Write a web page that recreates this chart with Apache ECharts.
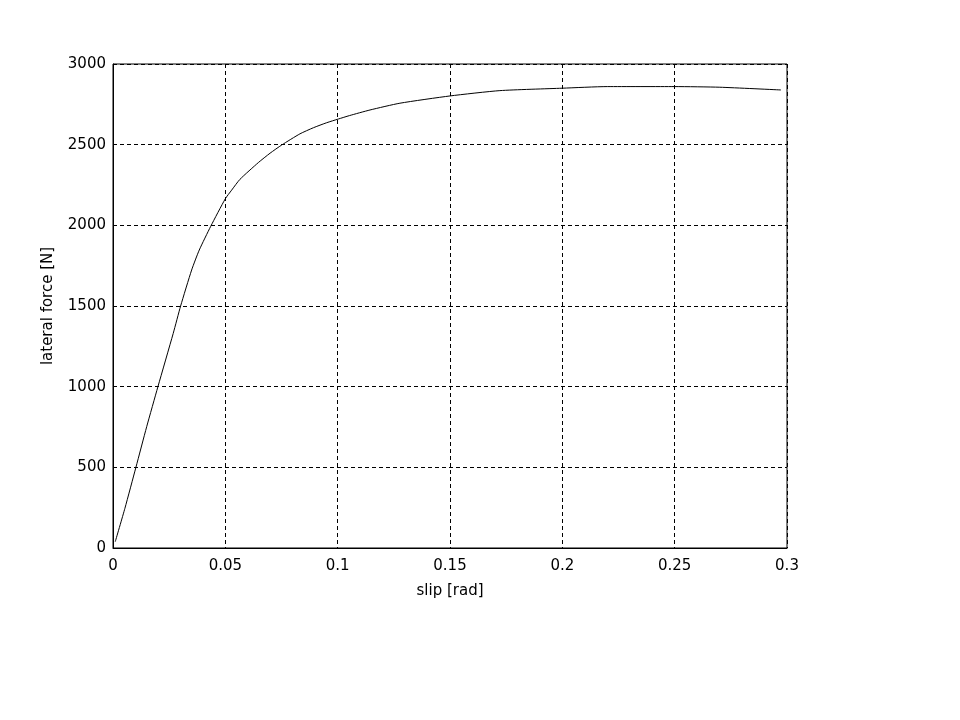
<!DOCTYPE html>
<html><head><meta charset="utf-8">
<script src="https://cdn.jsdelivr.net/npm/echarts@6/dist/echarts.min.js"></script>
<style>html,body{margin:0;padding:0;background:#fff}#c{width:960px;height:720px}</style>
</head><body><div id="c"></div>
<script>
const slip = [0.001,0.0053,0.0102,0.015,0.02,0.0268,0.0301,0.035,0.0384,0.0435,0.05,0.0528,0.0565,0.0647,0.0699,0.0751,0.0832,0.0892,0.0951,0.1003,0.1052,0.1144,0.1277,0.15,0.1722,0.2,0.22,0.25,0.2701,0.2973];
const force = [39,246,500,752,1000,1330,1500,1723,1847,1994,2165,2218,2285,2389,2447,2498,2567,2605,2636,2659,2680,2715,2757,2802,2835,2850,2860,2860,2856,2839];
const xTicks = [0,0.05,0.1,0.15,0.2,0.25,0.3];
const yTicks = [0,500,1000,1500,2000,2500,3000];

const font = 'DejaVu Sans, sans-serif';
const chart = echarts.init(document.getElementById('c'));
const gridLine = {show:true, lineStyle:{color:'#000', type:[4,3], width:1}};
chart.setOption({
  animation:false,
  backgroundColor:'#fff',
  grid:{left:113, right:173, top:64, bottom:172, show:true, borderColor:'#000', borderWidth:1},
  xAxis:{
    type:'value', min:xTicks[0], max:xTicks[xTicks.length-1], interval:0.05,
    name:'slip [rad]', nameLocation:'middle', nameGap:36,
    nameTextStyle:{color:'#000', fontSize:15, fontFamily:font},
    axisLine:{show:true, lineStyle:{color:'#000'}},
    axisTick:{show:false},
    axisLabel:{color:'#000', fontSize:15, fontFamily:font, margin:11, formatter:v=>String(+v.toFixed(2))},
    splitLine:gridLine
  },
  yAxis:{
    type:'value', min:yTicks[0], max:yTicks[yTicks.length-1], interval:500,
    name:'lateral force [N]', nameLocation:'middle', nameGap:57, nameRotate:90,
    nameTextStyle:{color:'#000', fontSize:15, fontFamily:font},
    axisLine:{show:true, lineStyle:{color:'#000'}},
    axisTick:{show:false},
    axisLabel:{color:'#000', fontSize:15, fontFamily:font, margin:7, formatter:v=>String(v)},
    splitLine:gridLine
  },
  series:[{
    type:'line',
    data: slip.map((x,i)=>[x, force[i]]),
    showSymbol:false, smooth:0.2,
    lineStyle:{color:'#000', width:1}
  }]
});
</script></body></html>
